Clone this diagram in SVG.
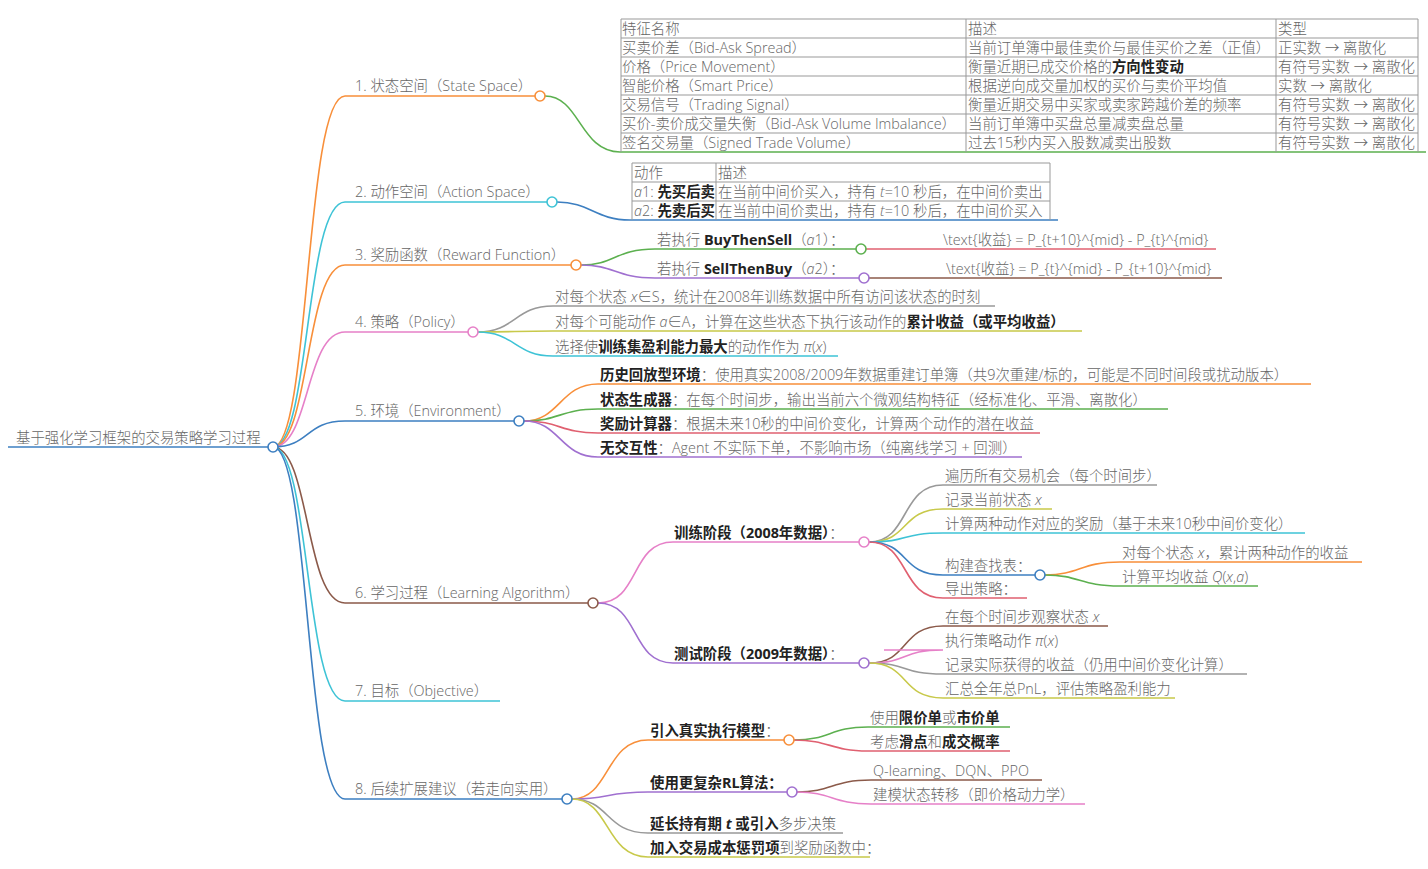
<svg xmlns="http://www.w3.org/2000/svg" width="1428" height="869" viewBox="0 0 1428 869">
<style>
text{font-family:"Open Sans","Noto Sans CJK SC",sans-serif;font-size:14.4px;fill:#666;font-weight:300}
.b{font-weight:700;fill:#222}
.i{font-style:italic}
path{fill:none;stroke-width:1.6}
circle{fill:#fff;stroke-width:1.6}
.t{stroke:#999;stroke-width:1;fill:none}
</style>
<rect width="1428" height="869" fill="#fff"/>
<g id="connectors">
<path d="M8,447H273" stroke="#3d7fc1"/>
<path d="M273,447C310,447 305,96 345,96H535" stroke="#f88f3a"/>
<path d="M273,447C310,447 305,202 345,202H547" stroke="#3ec3d6"/>
<path d="M273,447C310,447 305,265 345,265H571" stroke="#f88f3a"/>
<path d="M273,447C310,447 305,332 345,332H468" stroke="#e680c8"/>
<path d="M273,447C310,447 305,421 345,421H514" stroke="#3d7fc1"/>
<path d="M273,447C310,447 305,603 345,603H588" stroke="#8b5a4a"/>
<path d="M273,447C310,447 305,701 345,701H500" stroke="#3ec3d6"/>
<path d="M273,447C310,447 305,799 345,799H562" stroke="#3d7fc1"/>
<path d="M545,96C580,96 580,152 620,152H1426" stroke="#5cb04f"/>
<path d="M557,202C590,202 595,220 630,220H1058" stroke="#3d7fc1"/>
<path d="M581,265C615,265 615,249 655,249H856" stroke="#5cb04f"/>
<path d="M581,265C615,265 615,278 655,278H859" stroke="#a070d0"/>
<path d="M866,249H1216" stroke="#e06070"/>
<path d="M869,278H1222" stroke="#8b5a4a"/>
<path d="M478,332C515,332 515,306 553,306H995" stroke="#999"/>
<path d="M478,332C515,332 515,331 553,331H1082" stroke="#c8c94a"/>
<path d="M478,332C515,332 515,356 553,356H838" stroke="#3ec3d6"/>
<path d="M524,421C560,421 560,384 598,384H1311" stroke="#f88f3a"/>
<path d="M524,421C560,421 560,409 598,409H1168" stroke="#5cb04f"/>
<path d="M524,421C560,421 560,433 598,433H1040" stroke="#e06070"/>
<path d="M524,421C560,421 560,457 598,457H1022" stroke="#a070d0"/>
<path d="M598,603C640,603 630,542 673,542H859" stroke="#e680c8"/>
<path d="M598,603C640,603 630,663 673,663H859" stroke="#a070d0"/>
<path d="M869,542C910,542 900,485 943,485H1157" stroke="#999"/>
<path d="M869,542C910,542 900,509 943,509H1052" stroke="#c8c94a"/>
<path d="M869,542C910,542 900,533 943,533H1305" stroke="#3ec3d6"/>
<path d="M869,542C910,542 900,575 943,575H1035" stroke="#3d7fc1"/>
<path d="M869,542C910,542 900,598 943,598H1027" stroke="#e06070"/>
<path d="M1045,575C1080,575 1080,562 1120,562H1362" stroke="#f88f3a"/>
<path d="M1045,575C1080,575 1080,586 1120,586H1258" stroke="#5cb04f"/>
<path d="M869,663C910,663 900,626 943,626H1108" stroke="#8b5a4a"/>
<path d="M869,663C910,663 900,650 943,650H884" stroke="#e680c8"/>
<path d="M869,663C910,663 900,674 943,674H1247" stroke="#999"/>
<path d="M869,663C910,663 900,698 943,698H1175" stroke="#c8c94a"/>
<path d="M572,799C610,799 605,740 648,740H784" stroke="#f88f3a"/>
<path d="M572,799C610,799 605,792 648,792H787" stroke="#a070d0"/>
<path d="M572,799C610,799 605,833 648,833H843" stroke="#999"/>
<path d="M572,799C610,799 605,857 648,857H870" stroke="#c8c94a"/>
<path d="M794,740C830,740 830,727 868,727H1010" stroke="#5cb04f"/>
<path d="M794,740C830,740 830,751 868,751H1010" stroke="#e06070"/>
<path d="M797,792C832,792 832,780 871,780H1042" stroke="#8b5a4a"/>
<path d="M797,792C832,792 832,804 871,804H1085" stroke="#e680c8"/>
</g>
<g id="root"><text x="16" y="443">基于强化学习框架的交易策略学习过程</text><circle cx="273" cy="447" r="5" stroke="#3d7fc1"/></g>
<g id="n1"><text x="355" y="91">1. 状态空间（State Space）</text><circle cx="540" cy="96" r="5" stroke="#f88f3a"/></g>
<g id="table1">
<path class="t" d="M621,19H1418M621,38H1418M621,57H1418M621,76H1418M621,95H1418M621,114H1418M621,133H1418M621,19V152M966,19V152M1276,19V152M1418,19V152"/>
<text x="622" y="34">特征名称</text><text x="968" y="34">描述</text><text x="1278" y="34">类型</text>
<text x="622" y="53">买卖价差（Bid-Ask Spread）</text><text x="968" y="53">当前订单簿中最佳卖价与最佳买价之差（正值）</text><text x="1278" y="53">正实数 → 离散化</text>
<text x="622" y="72">价格（Price Movement）</text><text x="968" y="72">衡量近期已成交价格的<tspan class="b">方向性变动</tspan></text><text x="1278" y="72">有符号实数 → 离散化</text>
<text x="622" y="91">智能价格（Smart Price）</text><text x="968" y="91">根据逆向成交量加权的买价与卖价平均值</text><text x="1278" y="91">实数 → 离散化</text>
<text x="622" y="110">交易信号（Trading Signal）</text><text x="968" y="110">衡量近期交易中买家或卖家跨越价差的频率</text><text x="1278" y="110">有符号实数 → 离散化</text>
<text x="622" y="129">买价-卖价成交量失衡（Bid-Ask Volume Imbalance）</text><text x="968" y="129">当前订单簿中买盘总量减卖盘总量</text><text x="1278" y="129">有符号实数 → 离散化</text>
<text x="622" y="148">签名交易量（Signed Trade Volume）</text><text x="968" y="148">过去15秒内买入股数减卖出股数</text><text x="1278" y="148">有符号实数 → 离散化</text>
</g>
<g id="n2"><text x="355" y="197">2. 动作空间（Action Space）</text><circle cx="552" cy="202" r="5" stroke="#3ec3d6"/></g>
<g id="table2">
<path class="t" d="M632,163H1050M632,182H1050M632,201H1050M632,163V220M716,163V220M1050,163V220"/>
<text x="634" y="178">动作</text><text x="718" y="178">描述</text>
<text x="634" y="197"><tspan class="i">a</tspan>1: <tspan class="b">先买后卖</tspan></text><text x="718" y="197">在当前中间价买入，持有 <tspan class="i">t</tspan>=10 秒后，在中间价卖出</text>
<text x="634" y="216"><tspan class="i">a</tspan>2: <tspan class="b">先卖后买</tspan></text><text x="718" y="216">在当前中间价卖出，持有 <tspan class="i">t</tspan>=10 秒后，在中间价买入</text>
</g>
<g id="n3"><text x="355" y="260">3. 奖励函数（Reward Function）</text><circle cx="576" cy="265" r="5" stroke="#f88f3a"/></g>
<g id="n3a"><text x="657" y="245">若执行 <tspan class="b">BuyThenSell</tspan>（<tspan class="i">a</tspan>1）：</text><circle cx="861" cy="249" r="5" stroke="#5cb04f"/></g>
<g id="n3b"><text x="657" y="274">若执行 <tspan class="b">SellThenBuy</tspan>（<tspan class="i">a</tspan>2）：</text><circle cx="864" cy="278" r="5" stroke="#a070d0"/></g>
<g id="n3a1"><text x="943" y="245">\text{收益} = P_{t+10}^{mid} - P_{t}^{mid}</text></g>
<g id="n3b1"><text x="946" y="274">\text{收益} = P_{t}^{mid} - P_{t+10}^{mid}</text></g>
<g id="n4"><text x="355" y="327">4. 策略（Policy）</text><circle cx="473" cy="332" r="5" stroke="#e680c8"/></g>
<g id="n4a"><text x="555" y="302">对每个状态 <tspan class="i">x</tspan>∈S，统计在2008年训练数据中所有访问该状态的时刻</text></g>
<g id="n4b"><text x="555" y="327">对每个可能动作 <tspan class="i">a</tspan>∈A，计算在这些状态下执行该动作的<tspan class="b">累计收益（或平均收益）</tspan></text></g>
<g id="n4c"><text x="555" y="352">选择使<tspan class="b">训练集盈利能力最大</tspan>的动作作为 <tspan class="i">π</tspan>(<tspan class="i">x</tspan>)</text></g>
<g id="n5"><text x="355" y="416">5. 环境（Environment）</text><circle cx="519" cy="421" r="5" stroke="#3d7fc1"/></g>
<g id="n5a"><text x="600" y="380"><tspan class="b">历史回放型环境</tspan>：使用真实2008/2009年数据重建订单簿（共9次重建/标的，可能是不同时间段或扰动版本）</text></g>
<g id="n5b"><text x="600" y="405"><tspan class="b">状态生成器</tspan>：在每个时间步，输出当前六个微观结构特征（经标准化、平滑、离散化）</text></g>
<g id="n5c"><text x="600" y="429"><tspan class="b">奖励计算器</tspan>：根据未来10秒的中间价变化，计算两个动作的潜在收益</text></g>
<g id="n5d"><text x="600" y="453"><tspan class="b">无交互性</tspan>：Agent 不实际下单，不影响市场（纯离线学习 + 回测）</text></g>
<g id="n6"><text x="355" y="598">6. 学习过程（Learning Algorithm）</text><circle cx="593" cy="603" r="5" stroke="#8b5a4a"/></g>
<g id="n6a"><text x="674" y="538" class="b">训练阶段（2008年数据）<tspan style="font-weight:300;fill:#666">：</tspan></text><circle cx="864" cy="542" r="5" stroke="#e680c8"/></g>
<g id="n6a1"><text x="945" y="481">遍历所有交易机会（每个时间步）</text></g>
<g id="n6a2"><text x="945" y="505">记录当前状态 <tspan class="i">x</tspan></text></g>
<g id="n6a3"><text x="945" y="529">计算两种动作对应的奖励（基于未来10秒中间价变化）</text></g>
<g id="n6a4"><text x="945" y="571">构建查找表：</text><circle cx="1040" cy="575" r="5" stroke="#3d7fc1"/></g>
<g id="n6a5"><text x="945" y="594">导出策略：</text></g>
<g id="n6a41"><text x="1122" y="558">对每个状态 <tspan class="i">x</tspan>，累计两种动作的收益</text></g>
<g id="n6a42"><text x="1122" y="582">计算平均收益 <tspan class="i">Q</tspan>(<tspan class="i">x</tspan>,<tspan class="i">a</tspan>)</text></g>
<g id="n6b"><text x="674" y="659" class="b">测试阶段（2009年数据）<tspan style="font-weight:300;fill:#666">：</tspan></text><circle cx="864" cy="663" r="5" stroke="#a070d0"/></g>
<g id="n6b1"><text x="945" y="622">在每个时间步观察状态 <tspan class="i">x</tspan></text></g>
<g id="n6b2"><text x="945" y="646">执行策略动作 <tspan class="i">π</tspan>(<tspan class="i">x</tspan>)</text></g>
<g id="n6b3"><text x="945" y="670">记录实际获得的收益（仍用中间价变化计算）</text></g>
<g id="n6b4"><text x="945" y="694">汇总全年总PnL，评估策略盈利能力</text></g>
<g id="n7"><text x="355" y="696">7. 目标（Objective）</text></g>
<g id="n8"><text x="355" y="794">8. 后续扩展建议（若走向实用）</text><circle cx="567" cy="799" r="5" stroke="#3d7fc1"/></g>
<g id="n8a"><text x="650" y="736" class="b">引入真实执行模型<tspan style="font-weight:300;fill:#666">：</tspan></text><circle cx="789" cy="740" r="5" stroke="#f88f3a"/></g>
<g id="n8a1"><text x="870" y="723">使用<tspan class="b">限价单</tspan>或<tspan class="b">市价单</tspan></text></g>
<g id="n8a2"><text x="870" y="747">考虑<tspan class="b">滑点</tspan>和<tspan class="b">成交概率</tspan></text></g>
<g id="n8b"><text x="650" y="788" class="b">使用更复杂RL算法：</text><circle cx="792" cy="792" r="5" stroke="#a070d0"/></g>
<g id="n8b1"><text x="873" y="776">Q-learning、DQN、PPO</text></g>
<g id="n8b2"><text x="873" y="800">建模状态转移（即价格动力学）</text></g>
<g id="n8c"><text x="650" y="829"><tspan class="b">延长持有期 <tspan class="i">t</tspan> 或引入</tspan>多步决策</text></g>
<g id="n8d"><text x="650" y="853"><tspan class="b">加入交易成本惩罚项</tspan>到奖励函数中：</text></g>
</svg>
